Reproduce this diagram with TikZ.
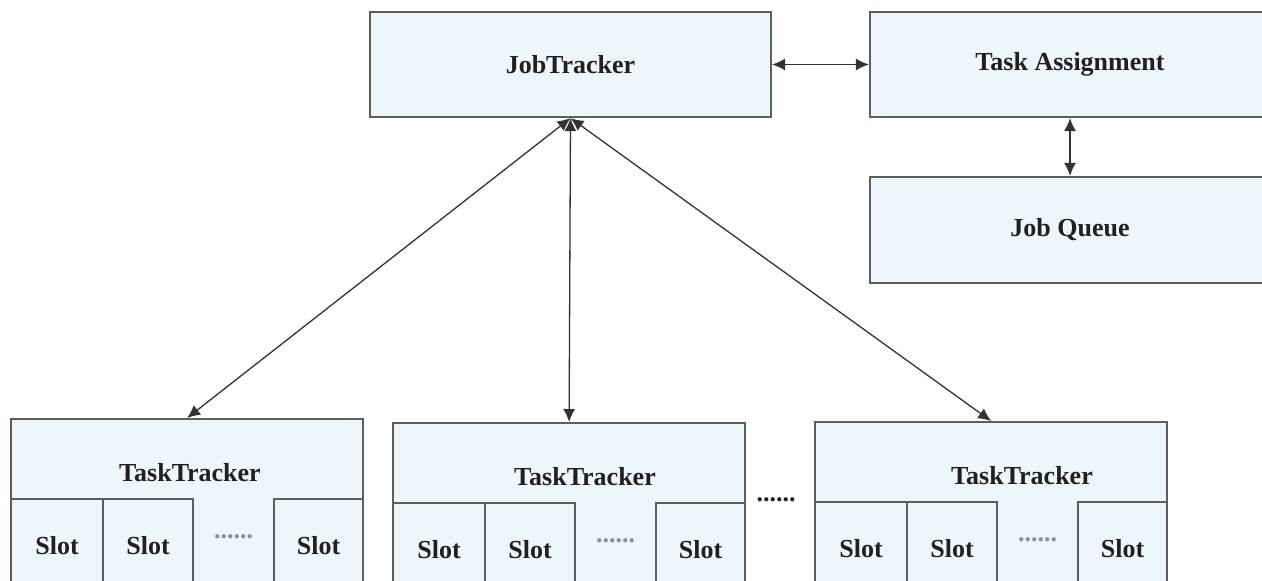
\documentclass[tikz,border=0pt]{standalone}
\usepackage{fontspec}
\setmainfont{Liberation Serif}
\usetikzlibrary{calc,positioning,arrows.meta}
\definecolor{BoxFill}{HTML}{EDF7FB}
\definecolor{BoxEdge}{HTML}{5E5E5E}
\definecolor{Ink}{HTML}{231F20}
\definecolor{Wire}{HTML}{333333}
\definecolor{Dots}{HTML}{8A8C99}

\begin{document}
\begin{tikzpicture}[x=0.5pt,y=-0.5pt,
    box/.style={draw=BoxEdge,fill=BoxFill,line width=1.1pt,inner sep=0pt,text=Ink,font=\bfseries\fontsize{13}{15}\selectfont},
    lbl/.style={text=Ink,font=\bfseries\fontsize{13}{15}\selectfont},
    wire/.style={Wire,line width=0.65pt,{Latex[length=6.5pt,width=6pt]}-{Latex[length=6.5pt,width=6pt]}}]
  \useasboundingbox (0,0) rectangle (1262,580);
  \clip (0,0) rectangle (1262,580);
  % top row
  \node[box,minimum width=200.5pt,minimum height=52.5pt] (jt) at (570.5,64.5) {JobTracker};
  \node[box,minimum width=200pt,minimum height=52.5pt] (ta) at (1070,64.5) {Task Assignment};
  \node[box,minimum width=200pt,minimum height=53pt] (jq) at (1070,230) {Job Queue};
  \draw[wire] (jt.east) -- (ta.west);
  \draw[wire] (ta.south) -- (jq.north);
  % task trackers
  \foreach \i/\x/\y/\tx in {1/10/418/190,2/392/422/585,3/814/421/1022}{
    \node[box,anchor=north west,minimum width=176pt,minimum height=86pt] (tt\i) at (\x,\y) {};
    \node[lbl] (tt\i name) at (\tx,\y+55) {TaskTracker};
    \node[box,anchor=north west,minimum width=46pt,minimum height=46pt] (tt\i s1) at (\x,\y+80) {Slot};
    \node[box,anchor=north west,minimum width=45pt,minimum height=46pt] (tt\i s2) at (\x+92,\y+80) {Slot};
    \node[box,anchor=north west,minimum width=44.5pt,minimum height=46pt] (tt\i s3) at (\x+263,\y+80) {Slot};
    \node[text=Dots,font=\bfseries\fontsize{13}{15}\selectfont,inner sep=0pt,yshift=4pt] (tt\i dots) at ($(tt\i s2.east)!0.5!(tt\i s3.west)$) {......};
    \draw[wire] (jt.south) -- (tt\i.north);
  }
  \node[lbl,inner sep=0pt] (more) at (776,500) {......};
\end{tikzpicture}
\end{document}
